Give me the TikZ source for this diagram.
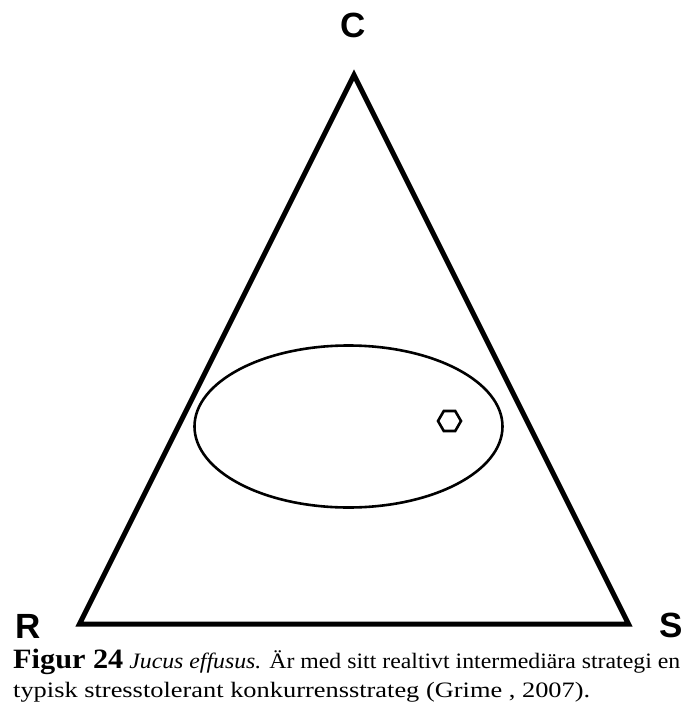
\documentclass[tikz,border=0pt]{standalone}
\usepackage{fontspec}
\usepackage{graphicx}
\setmainfont{Liberation Serif}
\newfontfamily\lblfont{Liberation Sans}
\usetikzlibrary{shapes.geometric}
\begin{document}
\begin{tikzpicture}[x=1pt,y=-1pt,
  corner/.style={font=\lblfont\bfseries\fontsize{35}{35}\selectfont, inner sep=0pt},
  tri/.style={line width=5pt, line join=miter},
  thin/.style={line width=2.6pt},
  captext/.style={anchor=base west, inner sep=0pt, font=\fontsize{22}{22}\selectfont}]
\useasboundingbox (0,0) rectangle (694,704);
\coordinate (top) at (354,75);
\coordinate (bl) at (79.5,624);
\coordinate (br) at (628.5,624);
\draw[tri] (top) -- (bl) -- (br) -- cycle;
\draw[thin] (348.5,426.5) ellipse [x radius=154, y radius=81];
\node[regular polygon, regular polygon sides=6, draw, thin, minimum size=23pt, inner sep=0pt] (hex) at (449.5,421) {};
\node[corner] (C) at (353,25) {C};
\node[corner] (R) at (28,626.5) {R};
\node[corner] (S) at (671,625) {S};
\node[captext] (cap1) at (13,668)
  {\resizebox{667pt}{\height}{{\bfseries\fontsize{28}{28}\selectfont Figur 24} \textit{Jucus effusus.} Är med sitt realtivt intermediära strategi en}};
\node[captext] (cap2) at (13,697)
  {\resizebox{577pt}{\height}{typisk stresstolerant konkurrensstrateg (Grime , 2007).}};
\end{tikzpicture}
\end{document}
